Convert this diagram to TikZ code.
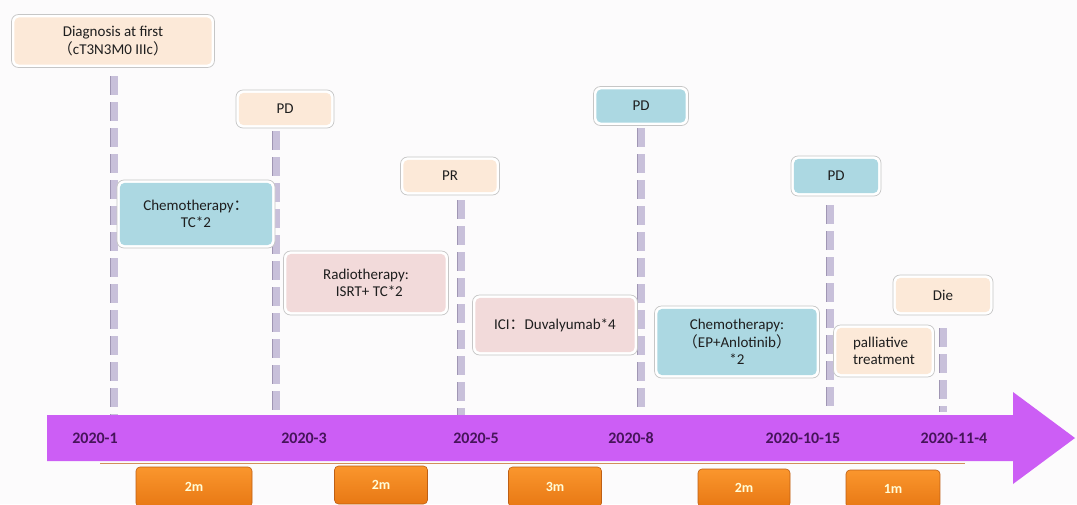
\documentclass[tikz,border=0pt]{standalone}
\usepackage{fontspec}
\setmainfont{Carlito}
\newfontfamily\cjk{Noto Sans CJK SC}
\usetikzlibrary{shadings}
\definecolor{bg}{RGB}{252,251,252}
\definecolor{peach}{RGB}{252,233,216}
\definecolor{bluebox}{RGB}{172,216,226}
\definecolor{pinkbox}{RGB}{242,218,218}
\definecolor{arrowcol}{RGB}{204,94,245}
\definecolor{datecol}{RGB}{70,20,90}
\definecolor{dashcol}{RGB}{200,192,218}
\definecolor{dashedge}{RGB}{160,150,180}
\definecolor{orangetop}{RGB}{250,150,45}
\definecolor{orangebot}{RGB}{232,120,20}
\definecolor{orangeedge}{RGB}{190,95,20}
\definecolor{txt}{RGB}{30,30,30}
\newcommand{\lp}{{\cjk （}}
\newcommand{\rp}{{\cjk ）}}
\newcommand{\cln}{{\cjk ：}}
\tikzset{
  evbox/.style={rounded corners=7pt, draw=gray!45, line width=0.7pt, fill=white,
    text=txt, align=center, inner sep=2pt, font=\fontsize{15}{17.5}\selectfont,
    path picture={\fill[#1, rounded corners=5pt]
      ([shift={(2.8pt,-2.8pt)}]path picture bounding box.north west) rectangle
      ([shift={(-2.8pt,2.8pt)}]path picture bounding box.south east);}},
  vline/.style={line width=7pt, draw=dashcol, dash pattern=on 19pt off 7pt,
    preaction={draw=dashedge, line width=8.2pt, dash pattern=on 19pt off 7pt}},
  datelabel/.style={text=datecol, font=\fontsize{16}{19}\selectfont\bfseries},
  durbox/.style={rounded corners=4pt, draw=orangeedge, line width=0.6pt,
    top color=orangetop, bottom color=orangebot, text=yellow!15,
    font=\fontsize{14}{16}\selectfont\bfseries}
}
\begin{document}
\begin{tikzpicture}[x=1pt,y=-1pt]
\useasboundingbox (0,0) rectangle (1077,504);
\fill[bg] (0,0) rectangle (1077,504);

% dashed vertical lines
\coordinate (s1) at (114,76);  \coordinate (t1) at (114,415);
\coordinate (s2) at (276,131); \coordinate (t2) at (276,415);
\coordinate (s3) at (461,200); \coordinate (t3) at (461,415);
\coordinate (s4) at (641,128); \coordinate (t4) at (641,412);
\coordinate (s5) at (830,205); \coordinate (t5) at (830,412);
\coordinate (s6) at (943,328); \coordinate (t6) at (943,412);
\foreach \i in {1,...,6} \draw[vline] (s\i) -- (t\i);

% timeline arrow
\fill[arrowcol] (47,415) -- (1013,415) -- (1013,392) -- (1075,438)
  -- (1013,484) -- (1013,461) -- (47,461) -- cycle;
\draw[orangeedge!70, line width=0.8pt] (100,463.5) -- (965,463.5);

% date labels
\node[datelabel] (d1) at (95,438) {2020-1};
\node[datelabel] (d2) at (304,438) {2020-3};
\node[datelabel] (d3) at (476,438) {2020-5};
\node[datelabel] (d4) at (631,438) {2020-8};
\node[datelabel] (d5) at (803,438) {2020-10-15};
\node[datelabel] (d6) at (954,438) {2020-11-4};

% duration boxes
\node[durbox, minimum width=116pt, minimum height=40pt] (m1) at (194,487) {2m};
\node[durbox, minimum width=93pt, minimum height=38pt] (m2) at (381,485) {2m};
\node[durbox, minimum width=93pt, minimum height=40pt] (m3) at (555,487) {3m};
\node[durbox, minimum width=92pt, minimum height=38pt] (m4) at (744,488) {2m};
\node[durbox, minimum width=94pt, minimum height=38pt] (m5) at (893,489) {1m};

% event boxes
\node[evbox=peach, minimum width=203pt, minimum height=53pt] (diag) at (113,41)
  {Diagnosis at first\\\lp cT3N3M0 IIIc\rp};
\node[evbox=peach, minimum width=98pt, minimum height=38pt] (pd1) at (285,109) {PD};
\node[evbox=bluebox, minimum width=158pt, minimum height=68pt] (chemo1) at (196,214)
  {Chemotherapy\cln\\TC*2};
\node[evbox=peach, minimum width=99pt, minimum height=38pt] (pr) at (450,176) {PR};
\node[evbox=pinkbox, minimum width=165pt, minimum height=64pt] (radio) at (366,283)
  {Radiotherapy:\\\ \ ISRT+ TC*2};
\node[evbox=bluebox, minimum width=95pt, minimum height=39pt] (pd2) at (641,106) {PD};
\node[evbox=pinkbox, minimum width=165pt, minimum height=60pt] (ici) at (555,325)
  {ICI\cln Duvalyumab*4};
\node[evbox=bluebox, minimum width=165pt, minimum height=72pt] (chemo2) at (737,342)
  {Chemotherapy:\\\lp EP+Anlotinib\rp\\*2};
\node[evbox=bluebox, minimum width=90pt, minimum height=40pt] (pd3) at (836,176) {PD};
\node[evbox=peach, minimum width=100pt, minimum height=40pt] (die) at (943,295) {Die};
\node[evbox=peach, minimum width=101pt, minimum height=52pt, align=left] (pall) at (884,351)
  {palliative\\treatment};
\end{tikzpicture}
\end{document}
